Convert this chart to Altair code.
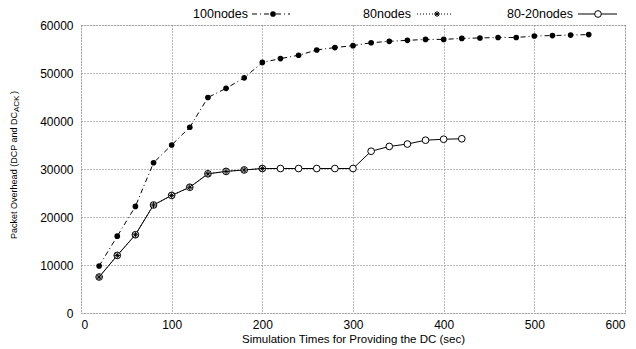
import altair as alt
import pandas as pd

# ---- data ----
x_100 = list(range(20, 561, 20))
y_100 = [9800, 16000, 22200, 31300, 35000, 38700, 44900, 46800, 49000, 52200,
         53000, 53700, 54800, 55300, 55700, 56300, 56600, 56800, 57000, 57000,
         57200, 57300, 57400, 57400, 57700, 57800, 57900, 58000]

x_80 = list(range(20, 201, 20))
y_80 = [7500, 12000, 16300, 22500, 24500, 26200, 29000, 29500, 29800, 30100]

x_8020 = list(range(20, 421, 20))
y_8020 = [7500, 12000, 16300, 22500, 24500, 26200, 29000, 29500, 29800, 30100,
          30100, 30100, 30100, 30100, 30100, 33700, 34700, 35200, 36000, 36200, 36300]

x_ticks = [0, 100, 200, 300, 400, 500, 600]
y_ticks = [0, 10000, 20000, 30000, 40000, 50000, 60000]

FONT = "Liberation Sans, Arial, Helvetica, sans-serif"
ASTER = "M-1,0H1M0,-1V1M-0.7,-0.7L0.7,0.7M-0.7,0.7L0.7,-0.7"

df100 = pd.DataFrame({"x": x_100, "y": y_100})
df80 = pd.DataFrame({"x": x_80, "y": y_80})
df8020 = pd.DataFrame({"x": x_8020, "y": y_8020})
one = pd.DataFrame({"k": [0]})

xs = alt.Scale(domain=[0, 600], nice=False, zero=False)
ys = alt.Scale(domain=[0, 60000], nice=False)

xenc = alt.X("x:Q", scale=xs, axis=alt.Axis(
    values=x_ticks, title="Simulation Times for Providing the DC (sec)", format="d",
    grid=True, gridColor="#777777", gridDash=[1, 2], gridWidth=1,
    domain=False, ticks=False, labelPadding=6, labelFontSize=12,
    labelFont=FONT, labelColor="black", titleFont=FONT, titleFontSize=11.5,
    titleFontWeight="normal", titleColor="black", titlePadding=3))
yenc = alt.Y("y:Q", scale=ys, axis=alt.Axis(
    values=y_ticks, title=None, format="d",
    grid=True, gridColor="#777777", gridDash=[1, 2], gridWidth=1,
    domain=False, ticks=False, labelPadding=8, labelFontSize=12,
    labelFont=FONT, labelColor="black"))

line100 = alt.Chart(df100).mark_line(color="black", strokeWidth=1, strokeDash=[5, 3, 1, 3]).encode(x=xenc, y=yenc)
pts100 = alt.Chart(df100).mark_point(shape="circle", filled=True, color="black", size=32, opacity=1).encode(x="x:Q", y="y:Q")

line8020 = alt.Chart(df8020).mark_line(color="black", strokeWidth=1).encode(x="x:Q", y="y:Q")
pts8020 = alt.Chart(df8020).mark_point(shape="circle", filled=True, fill="white", stroke="black",
                                       strokeWidth=1, size=45, opacity=1).encode(x="x:Q", y="y:Q")

line80 = alt.Chart(df80).mark_line(color="black", strokeWidth=1, strokeDash=[1, 2]).encode(x="x:Q", y="y:Q")
pts80 = alt.Chart(df80).mark_point(shape=ASTER, filled=False, stroke="black", strokeWidth=1,
                                   size=36, opacity=1).encode(x="x:Q", y="y:Q")

# ---- legend (top, outside plot) ----
LY = -11
def legend_item(label, tx, lx1, lx2, mx, dash, marker):
    t = alt.Chart(one).mark_text(align="right", baseline="middle", font=FONT, fontSize=12.5,
                                 fontWeight="normal", color="black").encode(
        x=alt.value(tx), y=alt.value(LY), text=alt.value(label))
    rk = dict(color="black", strokeWidth=1)
    if dash:
        rk["strokeDash"] = dash
    r = alt.Chart(one).mark_rule(**rk).encode(x=alt.value(lx1), x2=alt.value(lx2), y=alt.value(LY))
    return [t, r, marker.encode(x=alt.value(mx), y=alt.value(LY))]

leg = []
leg += legend_item("100nodes", 167, 171, 209, 192, [5, 3, 1, 3],
                   alt.Chart(one).mark_point(shape="circle", filled=True, color="black", size=32, opacity=1))
leg += legend_item("80nodes", 330, 336, 372, 356, [1, 2],
                   alt.Chart(one).mark_point(shape=ASTER, filled=False, stroke="black", strokeWidth=1, size=36, opacity=1))
leg += legend_item("80-20nodes", 492, 497, 536, 517, None,
                   alt.Chart(one).mark_point(shape="circle", filled=True, fill="white", stroke="black",
                                             strokeWidth=1, size=45, opacity=1))

# ---- y title with subscript ----
TX = -67
yt_main = alt.Chart(one).mark_text(align="right", baseline="middle", angle=270, font=FONT,
                                   fontSize=9, fontWeight="normal", color="black").encode(
    x=alt.value(TX), y=alt.value(87), text=alt.value("Packet Overhead (DCP and DC"))
yt_sub = alt.Chart(one).mark_text(align="left", baseline="middle", angle=270, font=FONT,
                                  fontSize=8, fontWeight="normal", color="black").encode(
    x=alt.value(TX + 3), y=alt.value(87), text=alt.value("ACK"))
yt_close = alt.Chart(one).mark_text(align="left", baseline="middle", angle=270, font=FONT,
                                    fontSize=9, fontWeight="normal", color="black").encode(
    x=alt.value(TX), y=alt.value(69), text=alt.value(")"))

chart = alt.layer(
    line100, line8020, line80, pts100, pts8020, pts80,
    *leg, yt_main, yt_sub, yt_close
).properties(
    width=544, height=288,
    autosize=alt.AutoSizeParams(type="none"),
    padding={"left": 73, "top": 17, "right": 3, "bottom": 36},
).configure_view(stroke="black", strokeWidth=1.5).configure(background="white")

chart.save("out.html", embed_options={"renderer": "svg", "actions": False})
